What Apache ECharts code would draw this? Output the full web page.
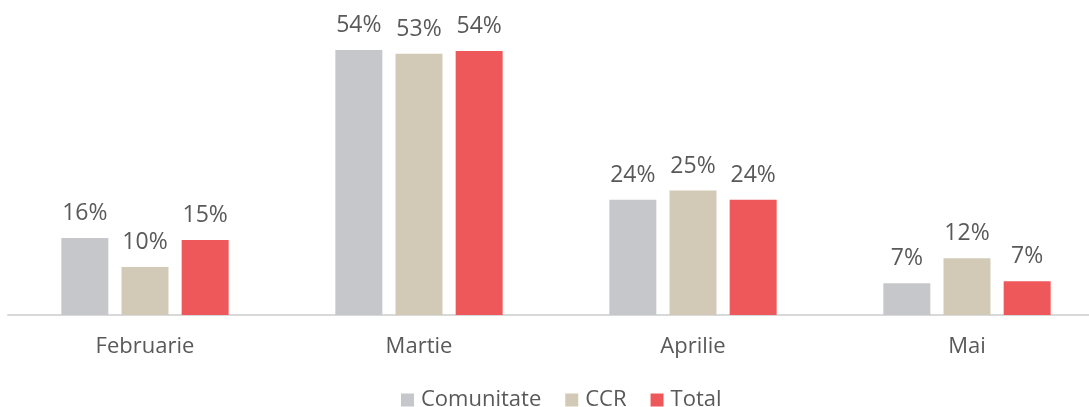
<!DOCTYPE html>
<html>
<head>
<meta charset="utf-8">
<script src="https://cdn.jsdelivr.net/npm/echarts@6/dist/echarts.min.js"></script>
<style>
  html, body { margin: 0; padding: 0; background: #fff; }
  #main { width: 1089px; height: 407px; }
</style>
</head>
<body>
<div id="main"></div>
<script>
const months = ['Februarie', 'Martie', 'Aprilie', 'Mai'];
const comunitate = [15.7, 54.1, 23.5, 6.5];
const ccr = [9.8, 53.3, 25.4, 11.6];
const total = [15.3, 53.9, 23.5, 6.9];

const font = '"Open Sans", sans-serif';
const textColor = '#595959';

function bar(name, data, color) {
    return {
        name: name,
        type: 'bar',
        data: data,
        barWidth: 47,
        barGap: '28%',
        itemStyle: { color: color },
        label: {
            show: true,
            position: 'top',
            distance: 13,
            formatter: p => Math.round(p.value) + '%',
            fontFamily: font,
            fontSize: 23,
            color: textColor
        }
    };
}

var chart = echarts.init(document.getElementById('main'));
chart.setOption({
    animation: false,
    grid: { left: 8, width: 1096, top: 21, bottom: 92, containLabel: false, outerBoundsMode: 'none' },
    legend: {
        bottom: -9,
        left: 396,
        itemWidth: 13,
        itemHeight: 13,
        itemGap: 24,
        icon: 'rect',
        textStyle: { fontFamily: font, fontSize: 22, color: textColor, padding: [0, 0, 0, 2] }
    },
    xAxis: {
        type: 'category',
        data: months,
        axisLine: { lineStyle: { color: '#d9d9d9', width: 2 } },
        axisTick: { show: false },
        axisLabel: { fontFamily: font, fontSize: 22, color: textColor, margin: 21 }
    },
    yAxis: {
        type: 'value',
        min: 0,
        max: 60,
        show: false,
        splitLine: { show: false }
    },
    series: [
        bar('Comunitate', comunitate, '#c6c7ca'),
        bar('CCR', ccr, '#d2cab6'),
        bar('Total', total, '#ef585a')
    ]
});
</script>
</body>
</html>
